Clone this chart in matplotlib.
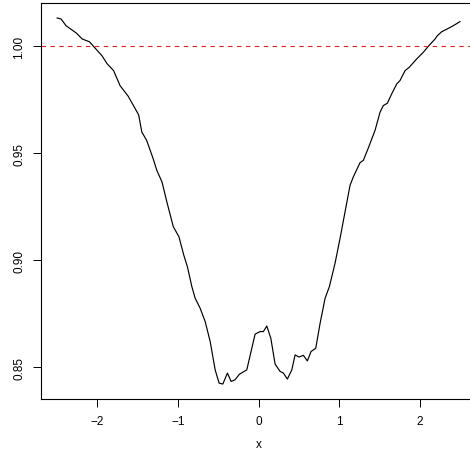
import matplotlib
matplotlib.use("Agg")
import matplotlib.pyplot as plt

# values
x = [-2.50, -2.45, -2.39, -2.26, -2.19, -2.10, -2.05, -1.945, -1.88, -1.80,
     -1.72, -1.62, -1.49, -1.45, -1.39, -1.31, -1.264, -1.20, -1.14, -1.06,
     -0.99, -0.93, -0.885, -0.83, -0.789, -0.727, -0.665, -0.603, -0.541, -0.492,
     -0.446, -0.389, -0.343, -0.294, -0.240, -0.149, -0.046, 0.016, 0.057, 0.099,
     0.149, 0.202, 0.264, 0.305, 0.354, 0.409, 0.450, 0.499, 0.553, 0.602,
     0.648, 0.706, 0.760, 0.822, 0.875, 0.945, 1.007, 1.069, 1.131, 1.172,
     1.255, 1.296, 1.358, 1.441, 1.503, 1.544, 1.594, 1.648, 1.710, 1.751,
     1.813, 1.866, 1.958, 2.040, 2.102, 2.185, 2.213, 2.268, 2.337, 2.411, 2.494]
y = [1.0132, 1.0127, 1.0096, 1.0061, 1.0034, 1.0021, 1.0000, 0.9956, 0.9918, 0.9886,
     0.9816, 0.9767, 0.9680, 0.9599, 0.9560, 0.9475, 0.9420, 0.9366, 0.9273, 0.9157,
     0.9110, 0.9024, 0.8970, 0.8877, 0.8823, 0.8776, 0.8714, 0.8621, 0.8488, 0.8426,
     0.8422, 0.8473, 0.8434, 0.8442, 0.8468, 0.8488, 0.8655, 0.8667, 0.8667, 0.8693,
     0.8636, 0.8515, 0.8481, 0.8473, 0.8445, 0.8488, 0.8558, 0.8548, 0.8556, 0.8530,
     0.8574, 0.8589, 0.8706, 0.8823, 0.8877, 0.8986, 0.9102, 0.9226, 0.9350, 0.9390,
     0.9456, 0.9467, 0.9525, 0.9607, 0.9692, 0.9723, 0.9734, 0.9778, 0.9824, 0.9840,
     0.9886, 0.9902, 0.9941, 0.9972, 1.0000, 1.0034, 1.0049, 1.0068, 1.0081, 1.0096, 1.0115]
ref_level = 1.0
xticks = [-2, -1, 0, 1, 2]
xtick_labels = ["\u22122", "\u22121", "0", "1", "2"]
yticks = [0.85, 0.90, 0.95, 1.00]
ytick_labels = ["0.85", "0.90", "0.95", "1.00"]

plt.rcParams['font.family'] = ['Liberation Sans', 'DejaVu Sans']

fig = plt.figure(figsize=(4.7, 4.6), dpi=100)
# box runs past the right edge, as in the reference crop
ax = fig.add_axes([41 / 470, 60 / 460, 435.6 / 470, 396 / 460])

ax.plot(x, y, color='black', lw=0.85)
ax.axhline(ref_level, color='#dd2222', lw=0.8, ls=(0, (4, 4)))

ax.set_xlim(-2.7, 2.7)
ax.set_ylim(0.8352, 1.0202)
ax.set_xticks(xticks)
ax.set_xticklabels(xtick_labels)
ax.set_yticks(yticks)
ax.set_yticklabels(ytick_labels, rotation=90, va='center')
ax.tick_params(direction='out', length=5.5, width=0.7, labelsize=8.5)
ax.tick_params(axis='x', pad=6)
ax.tick_params(axis='y', pad=6)
ax.set_xlabel('x', fontsize=8.5, labelpad=8)

for s in ax.spines.values():
    s.set_linewidth(0.8)

fig.savefig('out.png', dpi=100)
